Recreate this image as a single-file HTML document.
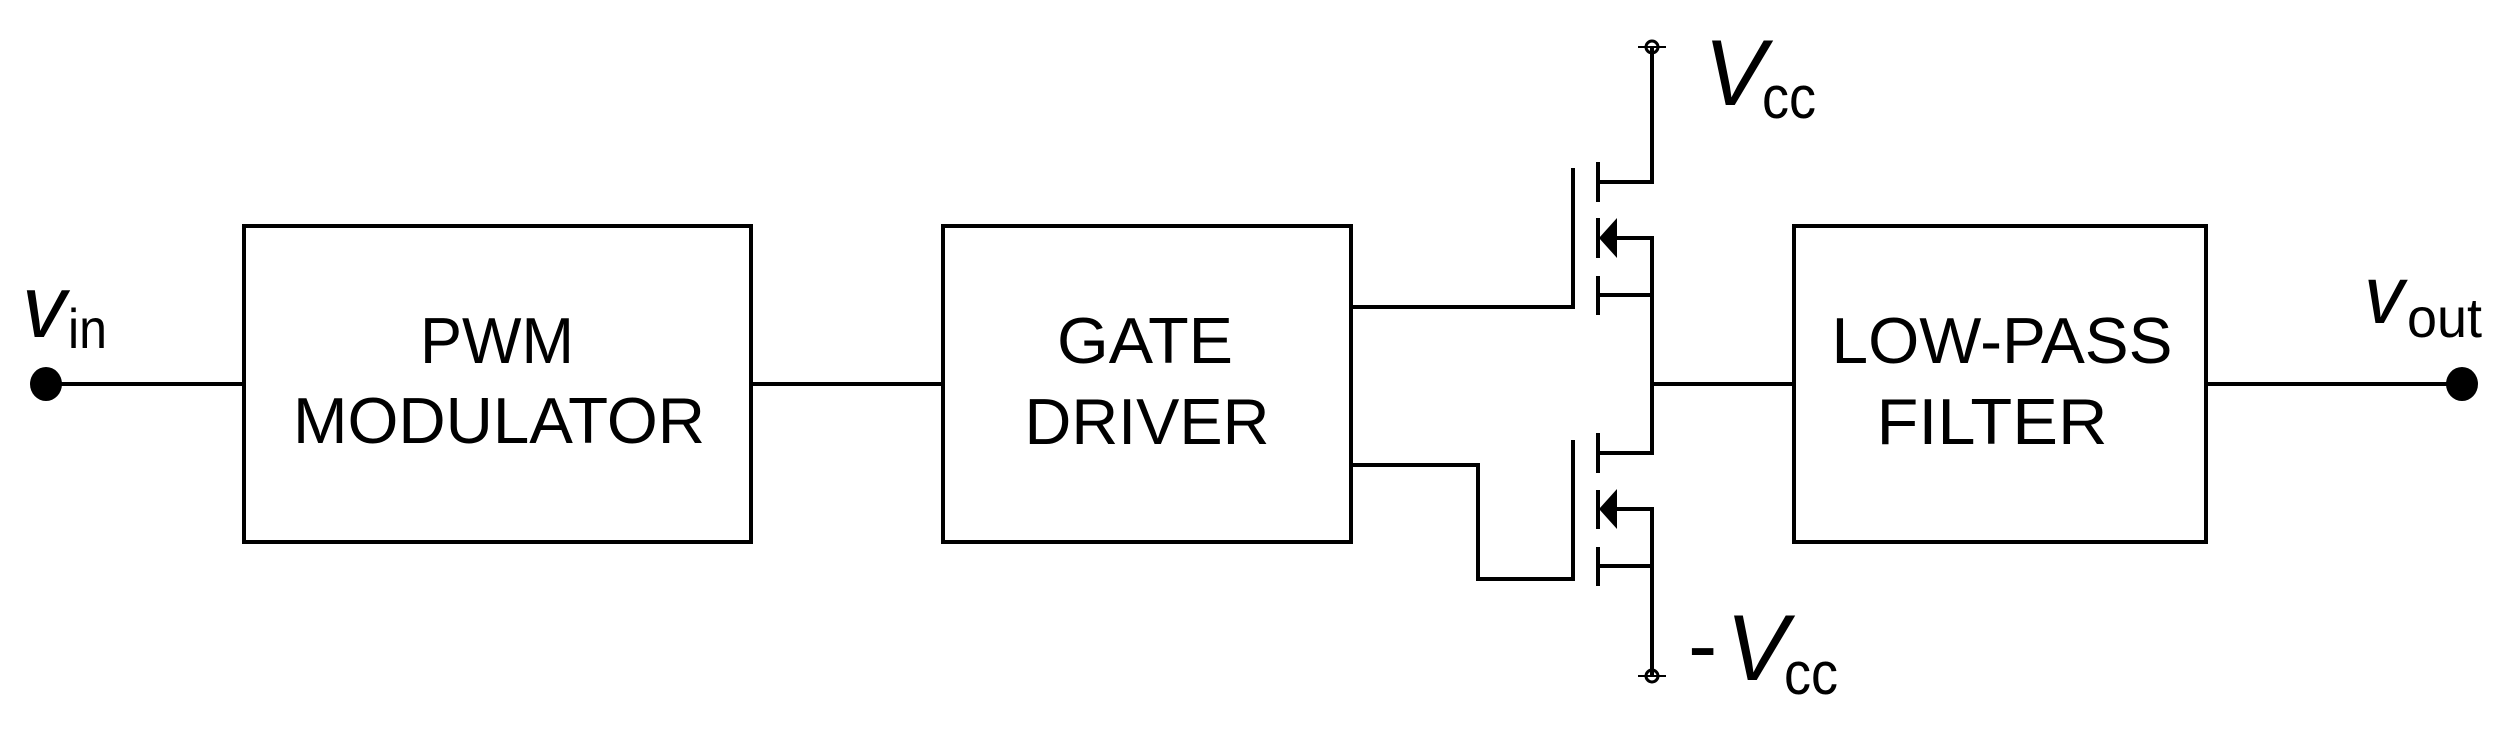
<!DOCTYPE html>
<html><head><meta charset="utf-8"><style>html,body{margin:0;padding:0;background:#fff}svg{display:block}</style></head>
<body>
<svg width="2519" height="730" viewBox="0 0 2519 730" xmlns="http://www.w3.org/2000/svg">
<g fill="none" stroke="#000" stroke-width="4">
<rect x="244" y="226" width="507" height="316"/>
<rect x="943" y="226" width="408" height="316"/>
<rect x="1794" y="226" width="412" height="316"/>
<line x1="46" y1="384" x2="244" y2="384"/>
<line x1="751" y1="384" x2="943" y2="384"/>
<line x1="2206" y1="384" x2="2462" y2="384"/>
<line x1="1652" y1="384" x2="1794" y2="384"/>
<polyline points="1652,47 1652,182 1598,182"/>
<line x1="1598" y1="162" x2="1598" y2="202"/>
<line x1="1598" y1="218" x2="1598" y2="258"/>
<line x1="1598" y1="276" x2="1598" y2="315"/>
<line x1="1573" y1="168" x2="1573" y2="309"/>
<line x1="1351" y1="307" x2="1573" y2="307"/>
<polyline points="1615,238 1652,238 1652,453 1598,453"/>
<line x1="1598" y1="295" x2="1652" y2="295"/>
<line x1="1598" y1="433" x2="1598" y2="473"/>
<line x1="1598" y1="490" x2="1598" y2="529"/>
<line x1="1598" y1="547" x2="1598" y2="586"/>
<line x1="1573" y1="440" x2="1573" y2="581"/>
<polyline points="1351,465 1478,465 1478,579 1573,579"/>
<polyline points="1615,509 1652,509 1652,676"/>
<line x1="1598" y1="566" x2="1652" y2="566"/>
<line x1="1638" y1="47" x2="1666" y2="47" stroke-width="2"/>
<line x1="1638" y1="676" x2="1666" y2="676" stroke-width="2"/>
<circle cx="1652" cy="47" r="6" stroke-width="3"/>
<circle cx="1652" cy="676" r="6" stroke-width="3"/>
</g>
<polygon points="1599,238 1617,218 1617,258" fill="#000"/>
<polygon points="1599,509 1617,489 1617,529" fill="#000"/>
<ellipse cx="46" cy="384" rx="16" ry="17" fill="#000"/>
<ellipse cx="2462" cy="384" rx="16" ry="17" fill="#000"/>
<g font-family="Liberation Sans, sans-serif" font-size="65" fill="#000" text-anchor="middle">
<text x="497" y="363" textLength="154" lengthAdjust="spacingAndGlyphs">PWM</text>
<text x="499" y="443" textLength="412" lengthAdjust="spacingAndGlyphs">MODULATOR</text>
<text x="1145" y="363" textLength="176" lengthAdjust="spacingAndGlyphs">GATE</text>
<text x="1147" y="444" textLength="245" lengthAdjust="spacingAndGlyphs">DRIVER</text>
<text x="2002" y="363" textLength="341" lengthAdjust="spacingAndGlyphs">LOW-PASS</text>
<text x="1992" y="444" textLength="231" lengthAdjust="spacingAndGlyphs">FILTER</text>
</g>
<g font-family="Liberation Sans, sans-serif" fill="#000">
<text x="22" y="337" font-size="88" font-style="italic" textLength="44" lengthAdjust="spacingAndGlyphs">v</text>
<text x="68" y="348" font-size="56" textLength="39" lengthAdjust="spacingAndGlyphs">in</text>
<text x="2364" y="323" font-size="82" font-style="italic" textLength="40" lengthAdjust="spacingAndGlyphs">v</text>
<text x="2407" y="337" font-size="56" textLength="75" lengthAdjust="spacingAndGlyphs">out</text>
<text x="1704" y="105" font-size="94" font-style="italic" textLength="62" lengthAdjust="spacingAndGlyphs">V</text>
<text x="1762" y="118" font-size="60" textLength="54" lengthAdjust="spacingAndGlyphs">cc</text>
<text x="1688" y="675" font-size="88">-</text>
<text x="1726" y="680" font-size="94" font-style="italic" textLength="62" lengthAdjust="spacingAndGlyphs">V</text>
<text x="1784" y="694" font-size="60" textLength="54" lengthAdjust="spacingAndGlyphs">cc</text>
</g>
</svg>
</body></html>
